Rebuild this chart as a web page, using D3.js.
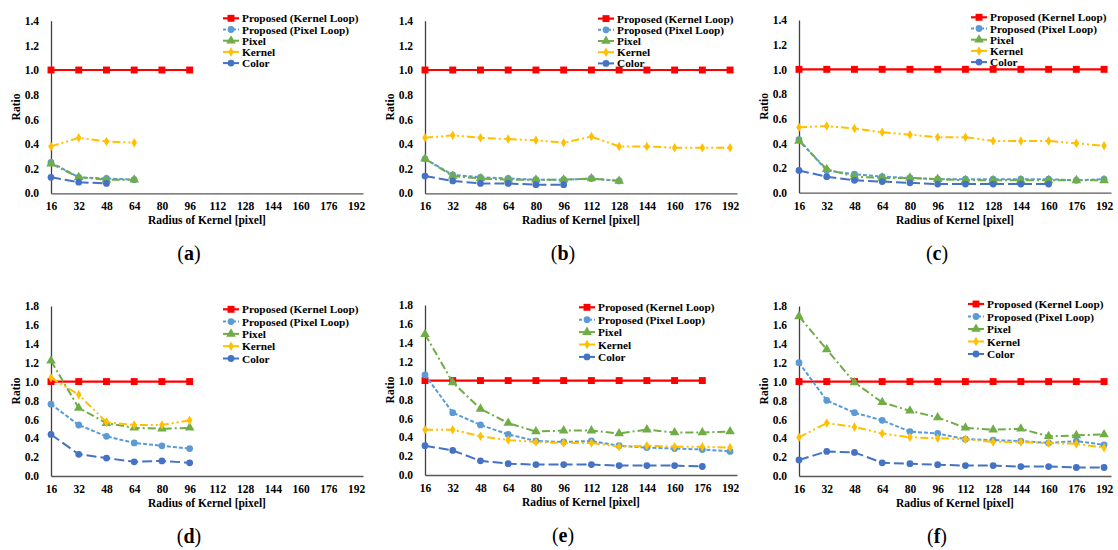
<!DOCTYPE html>
<html>
<head>
<meta charset="utf-8">
<script src="https://cdn.jsdelivr.net/npm/d3@7"></script>
<style>
  body { margin: 0; background: #fff; }
</style>
</head>
<body>
<script>
// categories / ticks
const radius = [16, 32, 48, 64, 80, 96, 112, 128, 144, 160, 176, 192];
const yTicksTop = [0, 0.2, 0.4, 0.6, 0.8, 1.0, 1.2, 1.4];
const yTicksBottom = [0, 0.2, 0.4, 0.6, 0.8, 1.0, 1.2, 1.4, 1.6, 1.8];
const seriesNames = ["Proposed (Kernel Loop)", "Proposed (Pixel Loop)", "Pixel", "Kernel", "Color"];
const captions = ["a", "b", "c", "d", "e", "f"];

// (a)
const aKernelLoop = [1, 1, 1, 1, 1, 1];
const aPixelLoop = [0.25, 0.13, 0.12, 0.11];
const aPixel = [0.24, 0.13, 0.11, 0.11];
const aKernel = [0.38, 0.45, 0.42, 0.41];
const aColor = [0.13, 0.09, 0.08];
// (b)
const bKernelLoop = [1, 1, 1, 1, 1, 1, 1, 1, 1, 1, 1, 1];
const bPixelLoop = [0.28, 0.15, 0.13, 0.12, 0.11, 0.11, 0.12, 0.10];
const bPixel = [0.28, 0.14, 0.12, 0.11, 0.11, 0.11, 0.12, 0.10];
const bKernel = [0.45, 0.47, 0.45, 0.44, 0.43, 0.41, 0.46, 0.38, 0.38, 0.37, 0.37, 0.37];
const bColor = [0.14, 0.10, 0.08, 0.08, 0.07, 0.07];
// (c)
const cKernelLoop = [1, 1, 1, 1, 1, 1, 1, 1, 1, 1, 1, 1];
const cPixelLoop = [0.43, 0.18, 0.15, 0.13, 0.12, 0.11, 0.11, 0.11, 0.11, 0.11, 0.10, 0.11];
const cPixel = [0.42, 0.19, 0.13, 0.12, 0.12, 0.11, 0.10, 0.10, 0.10, 0.10, 0.10, 0.10];
const cKernel = [0.53, 0.54, 0.52, 0.49, 0.47, 0.45, 0.45, 0.42, 0.42, 0.42, 0.40, 0.38];
const cColor = [0.18, 0.13, 0.10, 0.09, 0.08, 0.07, 0.07, 0.07, 0.07, 0.07];
// (d)
const dKernelLoop = [1, 1, 1, 1, 1, 1];
const dPixelLoop = [0.76, 0.54, 0.42, 0.35, 0.32, 0.29];
const dPixel = [1.22, 0.72, 0.56, 0.51, 0.50, 0.51];
const dKernel = [1.04, 0.86, 0.57, 0.54, 0.54, 0.59];
const dColor = [0.44, 0.23, 0.19, 0.15, 0.16, 0.14];
// (e)
const eKernelLoop = [1, 1, 1, 1, 1, 1, 1, 1, 1, 1, 1];
const ePixelLoop = [1.06, 0.66, 0.53, 0.43, 0.36, 0.35, 0.36, 0.31, 0.29, 0.28, 0.27, 0.25];
const ePixel = [1.49, 0.98, 0.70, 0.55, 0.46, 0.47, 0.47, 0.44, 0.48, 0.45, 0.45, 0.46];
const eKernel = [0.48, 0.48, 0.41, 0.37, 0.35, 0.34, 0.34, 0.30, 0.31, 0.30, 0.30, 0.29];
const eColor = [0.31, 0.26, 0.15, 0.12, 0.11, 0.11, 0.11, 0.10, 0.10, 0.10, 0.09];
// (f)
const fKernelLoop = [1, 1, 1, 1, 1, 1, 1, 1, 1, 1, 1, 1];
const fPixelLoop = [1.20, 0.80, 0.67, 0.59, 0.47, 0.45, 0.39, 0.38, 0.37, 0.35, 0.37, 0.33];
const fPixel = [1.69, 1.34, 0.99, 0.78, 0.69, 0.62, 0.51, 0.49, 0.50, 0.42, 0.43, 0.44];
const fKernel = [0.41, 0.56, 0.52, 0.45, 0.41, 0.40, 0.39, 0.36, 0.36, 0.35, 0.34, 0.30];
const fColor = [0.17, 0.26, 0.25, 0.14, 0.13, 0.12, 0.11, 0.11, 0.10, 0.10, 0.09, 0.09];

const FONT = "'Liberation Serif', 'Times New Roman', Tinos, serif";

// series styling (same order as seriesNames)
const styles = [
  { color: "#ff0000", dash: null, shape: d3.symbolSquare, size: 48, width: 2.2 },
  { color: "#5b9bd5", dash: "4,2", shape: d3.symbolCircle, size: 36, width: 2 },
  { color: "#70ad47", dash: "8,3,2,3", shape: d3.symbolTriangle, size: 40, width: 2 },
  { color: "#ffc000", dash: "8,3,2,3,2,3", shape: d3.symbolDiamond, size: 26, width: 2 },
  { color: "#4472c4", dash: "10,4", shape: d3.symbolCircle, size: 36, width: 2 }
];

// panel layout
const panels = [
  { series: [aKernelLoop, aPixelLoop, aPixel, aKernel, aColor], x0: 51, yBase: 193.3, yTop: 20.7, yMax: 1.4, ticks: yTicksTop, legX: 242, legY: 18.3, legStep: 11.2 },
  { series: [bKernelLoop, bPixelLoop, bPixel, bKernel, bColor], x0: 425, yBase: 193.3, yTop: 20.7, yMax: 1.4, ticks: yTicksTop, legX: 617, legY: 18.6, legStep: 11.2 },
  { series: [cKernelLoop, cPixelLoop, cPixel, cKernel, cColor], x0: 799, yBase: 192.7, yTop: 20, yMax: 1.4, ticks: yTicksTop, legX: 990, legY: 17.3, legStep: 11.2 },
  { series: [dKernelLoop, dPixelLoop, dPixel, dKernel, dColor], x0: 51, yBase: 476, yTop: 306, yMax: 1.8, ticks: yTicksBottom, legX: 242, legY: 309.3, legStep: 12.3 },
  { series: [eKernelLoop, ePixelLoop, ePixel, eKernel, eColor], x0: 425, yBase: 475, yTop: 305, yMax: 1.8, ticks: yTicksBottom, legX: 598, legY: 307.3, legStep: 12.4 },
  { series: [fKernelLoop, fPixelLoop, fPixel, fKernel, fColor], x0: 799, yBase: 476, yTop: 306, yMax: 1.8, ticks: yTicksBottom, legX: 987, legY: 304, legStep: 12.5 }
];

const svg = d3.select("body").append("svg")
  .attr("width", 1118)
  .attr("height", 550);

panels.forEach(function(p, k) {
  const g = svg.append("g");
  const x = d3.scaleLinear().domain([16, 196]).range([p.x0, p.x0 + 312]);
  const y = d3.scaleLinear().domain([0, p.yMax]).range([p.yBase, p.yTop]);

  // axes
  const xAxis = g.append("g")
    .attr("transform", "translate(0," + p.yBase + ")")
    .call(d3.axisBottom(x).tickValues(radius).tickSize(0).tickPadding(9));
  const yAxis = g.append("g")
    .attr("transform", "translate(" + p.x0 + ",0)")
    .call(d3.axisLeft(y).tickValues(p.ticks).tickFormat(d3.format(".1f")).tickSize(0).tickPadding(12));
  xAxis.select(".domain").attr("stroke", "#595959").attr("stroke-width", 1.3);
  yAxis.select(".domain").attr("stroke", "#404040").attr("stroke-width", 1.3);
  g.selectAll(".tick text")
    .style("font-family", FONT)
    .style("font-weight", "bold")
    .style("font-size", "11.5px")
    .attr("fill", "#000");

  // axis titles
  g.append("text")
    .attr("x", p.x0 + 156)
    .attr("y", p.yBase + 31)
    .attr("text-anchor", "middle")
    .style("font-family", FONT)
    .style("font-size", "11.5px")
    .style("font-weight", "bold")
    .text("Radius of Kernel [pixel]");
  g.append("text")
    .attr("transform", "translate(" + (p.x0 - 31) + "," + ((p.yBase + p.yTop) / 2) + ") rotate(-90)")
    .attr("text-anchor", "middle")
    .style("font-family", FONT)
    .style("font-size", "11.5px")
    .style("font-weight", "bold")
    .text("Ratio");

  // series lines + markers
  p.series.forEach(function(vals, s) {
    const st = styles[s];
    const pts = vals.map(function(v, i) { return [radius[i], v]; });
    const line = d3.line().x(function(d) { return x(d[0]); }).y(function(d) { return y(d[1]); });
    g.append("path")
      .datum(pts)
      .attr("d", line)
      .attr("fill", "none")
      .attr("stroke", st.color)
      .attr("stroke-width", st.width)
      .attr("stroke-dasharray", st.dash);
    g.selectAll(null)
      .data(pts)
      .enter()
      .append("path")
      .attr("d", d3.symbol().type(st.shape).size(st.size))
      .attr("transform", function(d) { return "translate(" + x(d[0]) + "," + y(d[1]) + ")"; })
      .attr("fill", st.color);
  });

  // legend
  const leg = g.append("g");
  seriesNames.forEach(function(name, s) {
    const st = styles[s];
    const ly = p.legY + s * p.legStep;
    leg.append("line")
      .attr("x1", p.legX - 19).attr("x2", p.legX - 3)
      .attr("y1", ly).attr("y2", ly)
      .attr("stroke", st.color)
      .attr("stroke-width", st.width)
      .attr("stroke-dasharray", s === 1 ? "3,2" : null);
    leg.append("path")
      .attr("d", d3.symbol().type(st.shape).size(st.size))
      .attr("transform", "translate(" + (p.legX - 11) + "," + ly + ")")
      .attr("fill", st.color);
    leg.append("text")
      .attr("x", p.legX)
      .attr("y", ly + 4)
      .style("font-family", FONT)
      .style("font-size", "11.3px")
      .style("font-weight", "bold")
      .text(name);
  });

  // caption
  const cap = g.append("text")
    .attr("x", p.x0 + 138)
    .attr("y", p.yBase + 67)
    .attr("text-anchor", "middle")
    .style("font-family", FONT)
    .style("font-size", "20px");
  cap.append("tspan").text("(");
  cap.append("tspan").style("font-weight", "bold").text(captions[k]);
  cap.append("tspan").text(")");
});
</script>
</body>
</html>
